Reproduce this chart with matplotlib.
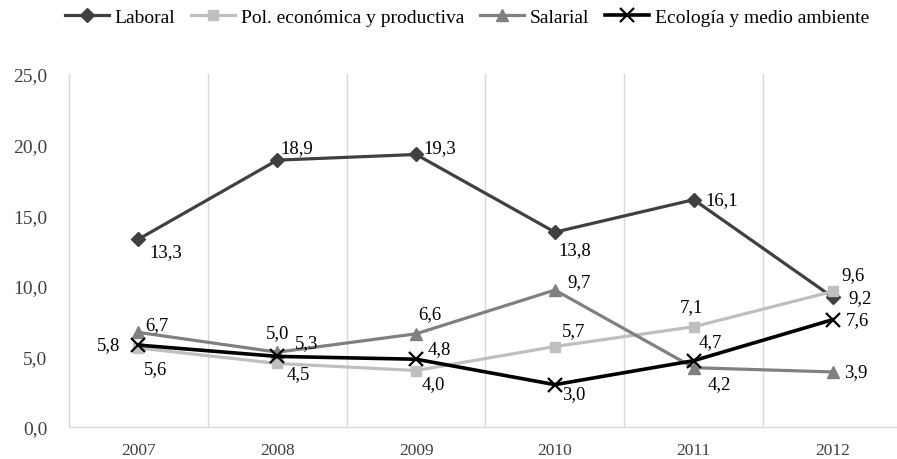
import matplotlib
matplotlib.use('Agg')
import numpy as np
from matplotlib import pyplot as plt

# data
years = ['2007', '2008', '2009', '2010', '2011', '2012']
laboral = [13.3, 18.9, 19.3, 13.8, 16.1, 9.2]
pol_economica = [5.6, 4.5, 4.0, 5.7, 7.1, 9.6]
salarial = [6.7, 5.3, 6.6, 9.7, 4.2, 3.9]
ecologia = [5.8, 5.0, 4.8, 3.0, 4.7, 7.6]

names = ['Laboral', 'Pol. económica y productiva', 'Salarial', 'Ecología y medio ambiente']
series = [laboral, pol_economica, salarial, ecologia]

# style for each line
colors = ['#404040', '#bfbfbf', '#808080', '#000000']
markers = ['D', 's', '^', 'x']
msizes = [7, 7, 8, 10]
lwidths = [2.3, 2.3, 2.3, 2.6]

# label offsets in pixels (dx, dy) from each point
offsets = [
    [(27, -12), (20, 13), (24, 7), (20, -17), (28, 0), (27, 0)],
    [(17, -21), (21, -10), (17, -13), (19, 16), (-2, 20), (20, 17)],
    [(18, 8), (29, 10), (14, 20), (24, 8), (26, -16), (23, 0)],
    [(-30, 1), (0, 24), (23, 11), (19, -9), (17, 19), (25, 0)],
]

plt.rcParams['font.family'] = ['Liberation Serif', 'DejaVu Serif']

fig = plt.figure(figsize=(8.97, 4.6), dpi=100)
ax = fig.add_axes([69 / 897, 32 / 460, (902 - 69) / 897, (428 - 75) / 460])

x = np.arange(len(years))
for vals, name, c, m, ms, lw, offs in zip(series, names, colors, markers, msizes, lwidths, offsets):
    if m == 'x':
        ax.plot(x, vals, color=c, lw=lw, marker=m, ms=ms, mew=1.6, label=name, clip_on=False)
    else:
        ax.plot(x, vals, color=c, lw=lw, marker=m, ms=ms, mec=c, label=name, clip_on=False)
    for xi, v, (dx, dy) in zip(x, vals, offs):
        ax.annotate(f'{v:.1f}'.replace('.', ','), (xi, v), xytext=(dx, dy),
                    textcoords='offset pixels', ha='center', va='center',
                    fontsize=13.5, color='black')

ax.set_xlim(-0.5, len(years) - 0.5)
ax.set_ylim(0, 25)
ax.set_xticks(x)
ax.set_xticklabels(years, fontsize=12.5, color='#404040')
ax.set_yticks(np.arange(0, 26, 5))
ax.set_yticklabels([f'{t:.1f}'.replace('.', ',') for t in np.arange(0, 26, 5)],
                   fontsize=14, color='#404040')
ax.set_xticks(np.arange(0.5, len(years) - 0.5, 1), minor=True)
ax.tick_params(axis='both', which='both', length=0)
ax.tick_params(axis='x', pad=11)
ax.tick_params(axis='y', pad=15.5)
ax.grid(True, which='minor', axis='x', color='#d9d9d9', lw=1)
ax.grid(False, which='major')
for s in ['top', 'right']:
    ax.spines[s].set_visible(False)
for s in ['left', 'bottom']:
    ax.spines[s].set_color('#d9d9d9')
    ax.spines[s].set_linewidth(1)

fig.legend(loc='center', bbox_to_anchor=(467 / 897, 1 - 18 / 460), ncol=4, frameon=False,
           fontsize=14, handlelength=2.27, columnspacing=0.8, handletextpad=0.3,
           borderpad=0)

fig.savefig('out.png', dpi=100)
